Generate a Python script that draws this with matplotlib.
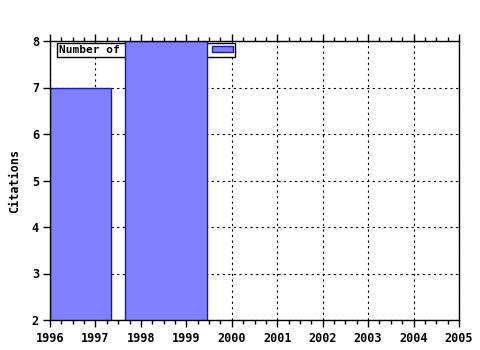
import matplotlib
matplotlib.use("Agg")
import matplotlib.pyplot as plt
from matplotlib.ticker import MultipleLocator

# bars: start / end year and citation count
bar_start = [1996.0, 1997.65]
bar_end = [1997.34, 1999.46]
citations = [7, 8]
years = list(range(1996, 2006))
y_ticks = [2, 3, 4, 5, 6, 7, 8]
legend_label = "Number of citations"

plt.rcParams["font.family"] = "DejaVu Sans Mono"
plt.rcParams["font.weight"] = "bold"
plt.rcParams["axes.labelweight"] = "bold"
plt.rcParams["font.size"] = 8.5

fig = plt.figure(figsize=(4.8, 3.5), dpi=100)
ax = fig.add_axes([50 / 480, 30 / 350, 409 / 480, 279 / 350])

widths = [e - s for s, e in zip(bar_start, bar_end)]
ax.bar(bar_start, citations, width=widths, align="edge", bottom=0,
       color="#8080ff", edgecolor="#1a1aa0", linewidth=1, zorder=1,
       label=legend_label)

ax.set_xlim(1996, 2005)
ax.set_ylim(2, 8)
ax.set_xticks(years)
ax.set_yticks(y_ticks)
ax.xaxis.set_minor_locator(MultipleLocator(0.25))

ax.set_axisbelow(True)
ax.grid(True, which="major", color="black", linestyle=(0, (2, 3)), linewidth=0.8)

ax.tick_params(axis="x", which="both", direction="out", top=True, bottom=True,
               width=1, color="black", pad=4)
ax.tick_params(axis="x", which="major", length=5)
ax.tick_params(axis="x", which="minor", length=3)
ax.tick_params(axis="y", which="major", direction="out", length=5, width=1,
               right=False, pad=3)
for s in ax.spines.values():
    s.set_linewidth(1)
    s.set_color("black")

ax.set_ylabel("Citations", labelpad=8, fontweight="bold")

leg = ax.legend(loc="upper left", bbox_to_anchor=(7 / 409, 1 - 2 / 279),
                markerfirst=False, frameon=True, fancybox=False,
                prop={"size": 8, "weight": "bold"},
                borderpad=0.2, borderaxespad=0, handlelength=1.9,
                handleheight=0.45, handletextpad=2.2, framealpha=1)
leg.get_frame().set_edgecolor("black")
leg.get_frame().set_linewidth(1)
leg.set_zorder(0.8)

fig.savefig("out.png", dpi=100)
